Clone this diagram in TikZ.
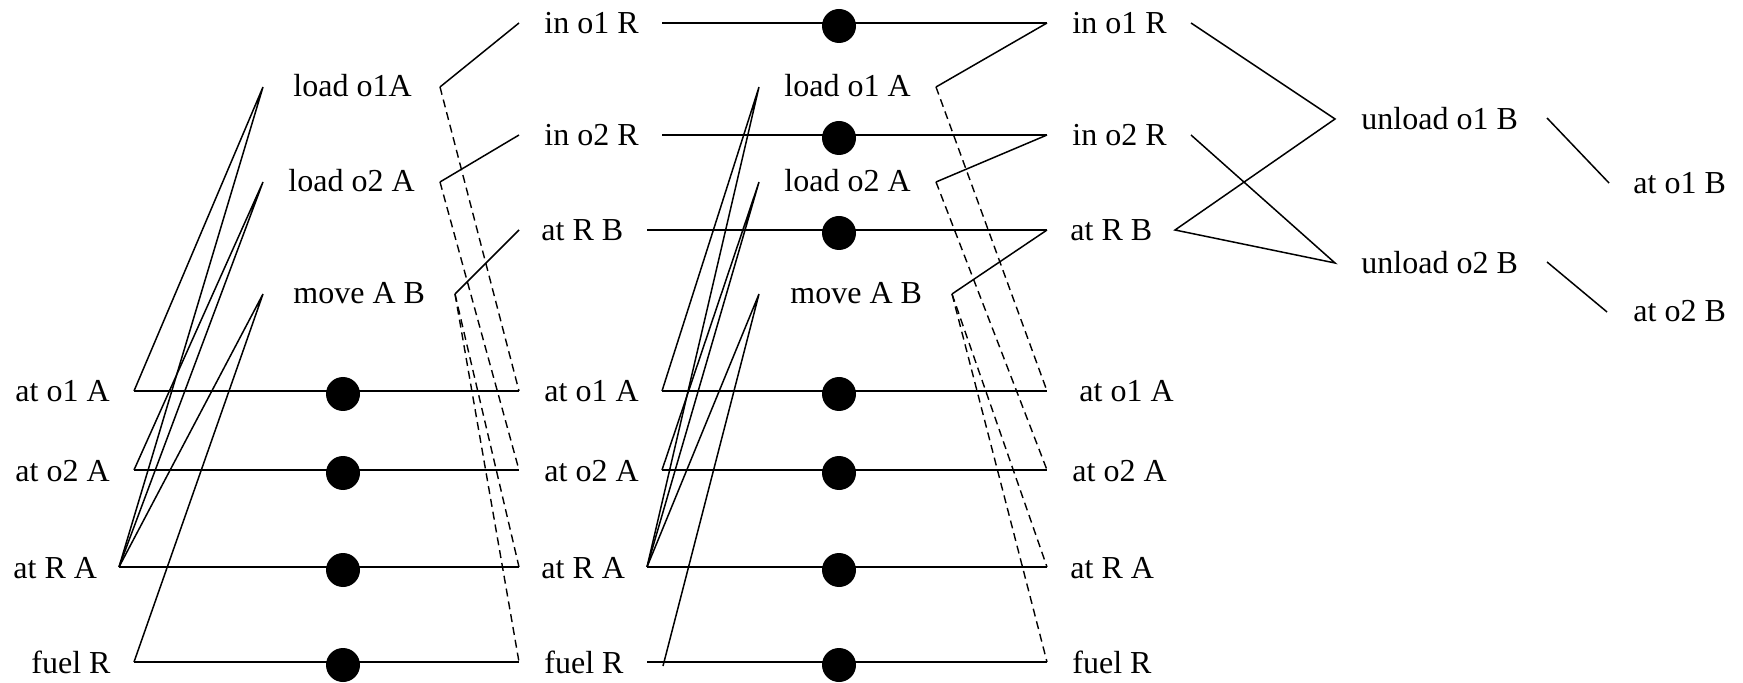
\documentclass[tikz,border=0pt]{standalone}
\usepackage{fontspec}
\setmainfont{Liberation Serif}
\begin{document}
\begin{tikzpicture}[x=0.5pt,y=-0.5pt,
  lbl/.style={font=\fontsize{16}{19}\selectfont, inner sep=0pt, anchor=base west},
  dotnode/.style={circle, fill=black, inner sep=0pt, minimum size=17pt},
  edge/.style={line width=0.75pt},
  del/.style={line width=0.7pt, dash pattern=on 4pt off 2.5pt}]
\useasboundingbox (0,0) rectangle (1743,683);

% ---------- fact layer 0 ----------
\node[lbl] (c0o1A) at (15,402) {at o1 A};
\node[lbl] (c0o2A) at (15,481) {at o2 A};
\node[lbl] (c0RA) at (13,578) {at R A};
\node[lbl] (c0fuel) at (31,673) {fuel R};
\coordinate (c0o1A-r) at (134,391);
\coordinate (c0o2A-r) at (134,470);
\coordinate (c0RA-r) at (119,567);
\coordinate (c0fuel-r) at (134,662);

% ---------- action layer 1 ----------
\node[lbl] (a1l1) at (293,97) {load o1A};
\node[lbl] (a1l2) at (288,192) {load o2 A};
\node[lbl] (a1mv) at (293,304) {move A B};
\coordinate (a1l1-l) at (263,87);  \coordinate (a1l1-r) at (440,87);
\coordinate (a1l2-l) at (263,182); \coordinate (a1l2-r) at (440,182);
\coordinate (a1mv-l) at (263,294); \coordinate (a1mv-r) at (455,294);

% ---------- fact layer 1 ----------
\node[lbl] (c1in1) at (544,34) {in o1 R};
\node[lbl] (c1in2) at (544,146) {in o2 R};
\node[lbl] (c1RB) at (541,241) {at R B};
\node[lbl] (c1o1A) at (544,402) {at o1 A};
\node[lbl] (c1o2A) at (544,481) {at o2 A};
\node[lbl] (c1RA) at (541,578) {at R A};
\node[lbl] (c1fuel) at (544,673) {fuel R};
\coordinate (c1in1-l) at (519,23);  \coordinate (c1in1-r) at (662,23);
\coordinate (c1in2-l) at (519,135); \coordinate (c1in2-r) at (662,135);
\coordinate (c1RB-l) at (519,230);  \coordinate (c1RB-r) at (647,230);
\coordinate (c1o1A-l) at (519,391); \coordinate (c1o1A-r) at (662,391);
\coordinate (c1o2A-l) at (519,470); \coordinate (c1o2A-r) at (662,470);
\coordinate (c1RA-l) at (519,567);  \coordinate (c1RA-r) at (647,567);
\coordinate (c1fuel-l) at (519,662); \coordinate (c1fuel-r) at (647,662);
\coordinate (c1fuel-p) at (663,666);

% ---------- action layer 2 ----------
\node[lbl] (a2l1) at (784,97) {load o1 A};
\node[lbl] (a2l2) at (784,192) {load o2 A};
\node[lbl] (a2mv) at (790,304) {move A B};
\coordinate (a2l1-l) at (759,87);  \coordinate (a2l1-r) at (936,87);
\coordinate (a2l2-l) at (759,182); \coordinate (a2l2-r) at (936,182);
\coordinate (a2mv-l) at (759,294); \coordinate (a2mv-r) at (952,294);

% ---------- fact layer 2 ----------
\node[lbl] (c2in1) at (1072,34) {in o1 R};
\node[lbl] (c2in2) at (1072,146) {in o2 R};
\node[lbl] (c2RB) at (1070,241) {at R B};
\node[lbl] (c2o1A) at (1079,402) {at o1 A};
\node[lbl] (c2o2A) at (1072,481) {at o2 A};
\node[lbl] (c2RA) at (1070,578) {at R A};
\node[lbl] (c2fuel) at (1072,673) {fuel R};
\coordinate (c2in1-l) at (1047,23);  \coordinate (c2in1-r) at (1191,23);
\coordinate (c2in2-l) at (1047,135); \coordinate (c2in2-r) at (1191,135);
\coordinate (c2RB-l) at (1047,230);  \coordinate (c2RB-r) at (1175,230);
\coordinate (c2o1A-l) at (1047,391);
\coordinate (c2o2A-l) at (1047,470);
\coordinate (c2RA-l) at (1047,567);
\coordinate (c2fuel-l) at (1047,662);

% ---------- action layer 3 ----------
\node[lbl] (a3u1) at (1361,130) {unload o1 B};
\node[lbl] (a3u2) at (1361,274) {unload o2 B};
\coordinate (a3u1-l) at (1335,119); \coordinate (a3u1-r) at (1547,118);
\coordinate (a3u2-l) at (1335,263); \coordinate (a3u2-r) at (1547,262);

% ---------- fact layer 3 ----------
\node[lbl] (c3o1B) at (1633,194) {at o1 B};
\node[lbl] (c3o2B) at (1633,322) {at o2 B};
\coordinate (c3o1B-l) at (1609,183);
\coordinate (c3o2B-l) at (1607,312);

% ---------- no-op dots ----------
\node[dotnode] (n0o1A) at (343,394) {};
\node[dotnode] (n0o2A) at (343,473) {};
\node[dotnode] (n0RA) at (343,570) {};
\node[dotnode] (n0fuel) at (343,665) {};
\node[dotnode] (n1in1) at (839,26) {};
\node[dotnode] (n1in2) at (839,138) {};
\node[dotnode] (n1RB) at (839,233) {};
\node[dotnode] (n1o1A) at (839,394) {};
\node[dotnode] (n1o2A) at (839,473) {};
\node[dotnode] (n1RA) at (839,570) {};
\node[dotnode] (n1fuel) at (839,665) {};

% no-op lines (horizontal, passing behind the dots)
\draw[edge] (c0o1A-r) -- (c0o1A-r -| n0o1A) -- (c1o1A-l);
\draw[edge] (c0o2A-r) -- (c0o2A-r -| n0o2A) -- (c1o2A-l);
\draw[edge] (c0RA-r) -- (c0RA-r -| n0RA) -- (c1RA-l);
\draw[edge] (c0fuel-r) -- (c0fuel-r -| n0fuel) -- (c1fuel-l);
\draw[edge] (c1in1-r) -- (c1in1-r -| n1in1) -- (c2in1-l);
\draw[edge] (c1in2-r) -- (c1in2-r -| n1in2) -- (c2in2-l);
\draw[edge] (c1RB-r) -- (c1RB-r -| n1RB) -- (c2RB-l);
\draw[edge] (c1o1A-r) -- (c1o1A-r -| n1o1A) -- (c2o1A-l);
\draw[edge] (c1o2A-r) -- (c1o2A-r -| n1o2A) -- (c2o2A-l);
\draw[edge] (c1RA-r) -- (c1RA-r -| n1RA) -- (c2RA-l);
\draw[edge] (c1fuel-r) -- (c1fuel-r -| n1fuel) -- (c2fuel-l);

% layer 1 preconditions
\draw[edge] (c0o1A-r) -- (a1l1-l) -- (c0RA-r);
\draw[edge] (c0o2A-r) -- (a1l2-l) -- (c0RA-r);
\draw[edge] (c0RA-r) -- (a1mv-l) -- (c0fuel-r);
% layer 1 effects
\draw[edge] (a1l1-r) -- (c1in1-l);
\draw[edge] (a1l2-r) -- (c1in2-l);
\draw[edge] (a1mv-r) -- (c1RB-l);
\draw[del] (a1l1-r) -- (c1o1A-l);
\draw[del] (a1l2-r) -- (c1o2A-l);
\draw[del] (a1mv-r) -- (c1RA-l);
\draw[del] (a1mv-r) -- (c1fuel-l);

% layer 2 preconditions
\draw[edge] (c1o1A-r) -- (a2l1-l) -- (c1RA-r);
\draw[edge] (c1o2A-r) -- (a2l2-l) -- (c1RA-r);
\draw[edge] (c1RA-r) -- (a2mv-l) -- (c1fuel-p);
% layer 2 effects
\draw[edge] (a2l1-r) -- (c2in1-l);
\draw[edge] (a2l2-r) -- (c2in2-l);
\draw[edge] (a2mv-r) -- (c2RB-l);
\draw[del] (a2l1-r) -- (c2o1A-l);
\draw[del] (a2l2-r) -- (c2o2A-l);
\draw[del] (a2mv-r) -- (c2RA-l);
\draw[del] (a2mv-r) -- (c2fuel-l);

% layer 3
\draw[edge] (c2in1-r) -- (a3u1-l) -- (c2RB-r) -- (a3u2-l) -- (c2in2-r);
\draw[edge] (a3u1-r) -- (c3o1B-l);
\draw[edge] (a3u2-r) -- (c3o2B-l);
\end{tikzpicture}
\end{document}
